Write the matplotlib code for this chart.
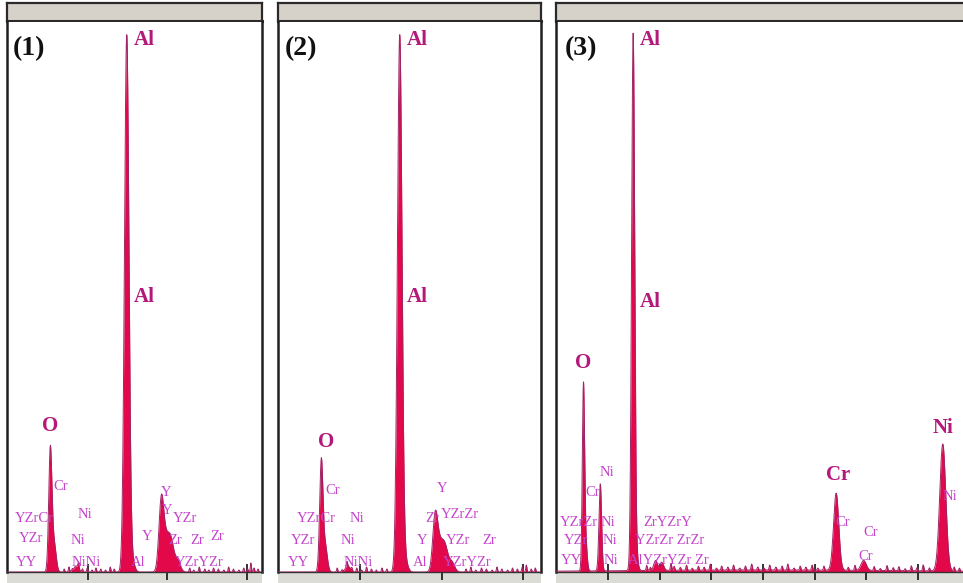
import numpy as np
import matplotlib
matplotlib.use("Agg")
import matplotlib.pyplot as plt

# ---------------- spectrum lines (energy keV, counts, sigma keV) ----------------
p1_energy = [0.525, 0.573, 0.851, 1.487, 1.557, 1.922, 1.980, 2.042, 2.124]
p1_counts = [122, 28, 6, 537, 10, 70, 28, 30, 12]
p1_sigma = [0.020, 0.025, 0.030, 0.028, 0.030, 0.030, 0.035, 0.035, 0.035]

p2_energy = [0.525, 0.573, 0.851, 1.487, 1.557, 1.922, 1.980, 2.042, 2.124]
p2_counts = [110, 26, 6, 537, 10, 55, 24, 24, 10]
p2_sigma = [0.020, 0.025, 0.030, 0.028, 0.030, 0.030, 0.035, 0.035, 0.035]

p3_energy = [0.525, 0.573, 0.851, 1.487, 1.557, 1.922, 2.042, 5.415, 5.947, 7.478, 4.0]
p3_counts = [185, 25, 87, 537, 10, 10, 8, 77, 10, 127, 2]
p3_sigma = [0.022, 0.025, 0.025, 0.030, 0.030, 0.035, 0.035, 0.050, 0.050, 0.058, 3.0]

# ---------------- baseline noise spikes (energy keV, counts) ----------------
p1_noise_e = [0.70, 0.76, 0.80, 0.88, 0.93, 0.99, 1.05, 1.10, 1.16, 1.22, 1.28, 1.33,
              2.28, 2.33, 2.40, 2.47, 2.52, 2.58, 2.64, 2.71, 2.77, 2.83, 2.90,
              2.96, 3.01, 3.05, 3.09, 3.14]
p1_noise_c = [3, 5, 2, 6, 3, 4, 2, 4, 3, 2, 5, 3,
              4, 2, 5, 3, 2, 4, 3, 2, 5, 3, 2, 4, 3, 9, 4, 3]
p2_noise_e = [0.72, 0.78, 0.84, 0.90, 0.96, 1.02, 1.08, 1.14, 1.20, 1.27, 1.33,
              2.30, 2.36, 2.42, 2.49, 2.55, 2.62, 2.68, 2.74, 2.81, 2.87, 2.93,
              2.99, 3.04, 3.10, 3.15]
p2_noise_c = [4, 2, 5, 3, 4, 2, 5, 3, 2, 4, 3,
              3, 5, 2, 4, 3, 2, 5, 3, 2, 4, 3, 5, 7, 3, 4]
p3_noise_e = [1.75, 1.82, 2.22, 2.28, 2.40, 2.52, 2.63, 2.75, 2.86, 2.98, 3.10, 3.20,
              3.32, 3.43, 3.55, 3.66, 3.78, 3.90, 4.02, 4.13, 4.25, 4.37, 4.48, 4.60,
              4.72, 4.83, 4.95, 5.06, 5.18, 5.65, 5.78, 6.15, 6.27, 6.40, 6.52, 6.63,
              6.75, 6.87, 6.98, 7.10, 7.22, 7.70, 7.80]
p3_noise_c = [5, 3, 7, 4, 3, 5, 2, 4, 3, 6, 2, 4,
              3, 5, 2, 4, 6, 3, 2, 5, 3, 4, 6, 2,
              4, 3, 5, 2, 4, 3, 5, 4, 2, 5, 3, 4,
              2, 5, 3, 6, 3, 4, 3]

# ---------------- labels: main lines and element markers ----------------
p1_main = [("Al", 1.58, 532, "left"), ("Al", 1.58, 275, "left"), ("O", 0.52, 146, "center")]
p1_small = [("Cr", 0.65, 85), ("YZrCr", 0.33, 54), ("Ni", 0.96, 57), ("YZr", 0.28, 34),
            ("Ni", 0.87, 32), ("YY", 0.22, 10), ("NiNi", 0.98, 10), ("Y", 1.98, 80),
            ("Y", 1.99, 62), ("YZr", 2.22, 54), ("Y", 1.74, 35), ("Zr", 2.10, 32),
            ("Zr", 2.38, 32), ("Zr", 2.62, 35), ("Al", 1.63, 10), ("YZrYZr", 2.40, 10)]
p2_main = [("Al", 1.57, 532, "left"), ("Al", 1.57, 275, "left"), ("O", 0.58, 130, "center")]
p2_small = [("Cr", 0.67, 82), ("YZrCr", 0.46, 54), ("Ni", 0.96, 54), ("YZr", 0.30, 32),
            ("Ni", 0.85, 32), ("YY", 0.24, 10), ("NiNi", 0.98, 10), ("Y", 2.01, 84),
            ("Zr", 1.88, 54), ("YZrZr", 2.23, 57), ("Y", 1.76, 31), ("YZr", 2.20, 31),
            ("Zr", 2.59, 31), ("Al", 1.74, 10), ("YZrYZr", 2.31, 10)]
p3_main = [("Al", 1.62, 532, "left"), ("Al", 1.62, 270, "left"), ("O", 0.51, 209, "center"),
           ("Cr", 5.45, 97, "center"), ("Ni", 7.48, 144, "center")]
p3_small = [("Ni", 0.98, 99), ("Cr", 0.70, 79), ("YZrZr", 0.43, 50), ("Ni", 0.99, 50),
            ("YZr", 0.38, 32), ("Ni", 1.04, 32), ("YY", 0.30, 12), ("Ni", 1.06, 12),
            ("ZrYZrY", 2.16, 50), ("YZrZr ZrZr", 2.20, 32), ("AlYZrYZr Zr", 2.16, 12),
            ("Cr", 5.55, 49), ("Cr", 6.08, 40), ("Cr", 5.99, 15), ("Ni", 7.62, 75)]

panel_tags = ["(1)", "(2)", "(3)"]
panel_ticks = [[1, 2, 3], [1, 2, 3], [1, 2, 3, 4, 5, 6, 7]]

# ---------------- styling ----------------
FILL = "#E2084A"
EDGE = "#A02466"
MAIN_TXT = "#B3187A"
SMALL_TXT = "#C444CC"
HEADER = "#D6D2CA"
STRIP = "#DCDCD6"
SERIF = ["Liberation Serif", "DejaVu Serif"]

W, H = 963, 583
fig = plt.figure(figsize=(W / 100, H / 100), dpi=100)


def px_axes(left, top, right, bottom, z=1):
    return fig.add_axes([left / W, 1 - bottom / H, (right - left) / W, (bottom - top) / H], zorder=z)


panels = [
    dict(l=7, r=262, xlim=(-0.02, 3.19), E=p1_energy, C=p1_counts, S=p1_sigma,
         NE=p1_noise_e, NC=p1_noise_c, nw=0.007, main=p1_main, small=p1_small, right=True),
    dict(l=278, r=541, xlim=(-0.006, 3.22), E=p2_energy, C=p2_counts, S=p2_sigma,
         NE=p2_noise_e, NC=p2_noise_c, nw=0.007, main=p2_main, small=p2_small, right=True),
    dict(l=556, r=963, xlim=(-0.006, 7.87), E=p3_energy, C=p3_counts, S=p3_sigma,
         NE=p3_noise_e, NC=p3_noise_c, nw=0.012, main=p3_main, small=p3_small, right=False),
]

for i, p in enumerate(panels):
    # title bar
    hd = px_axes(p["l"], 3, p["r"], 21, z=2)
    hd.set_facecolor(HEADER)
    hd.set_xticks([]); hd.set_yticks([])
    for s in hd.spines.values():
        s.set_linewidth(1.6); s.set_color("#2a2a2a")
    hd.spines["bottom"].set_linewidth(2.2)
    if not p["right"]:
        hd.spines["right"].set_visible(False)

    # grey strip under the baseline
    st = px_axes(p["l"], 572, p["r"], 583, z=1)
    st.set_facecolor(STRIP)
    st.set_xticks([]); st.set_yticks([])
    for s in st.spines.values():
        s.set_visible(False)

    # spectrum: characteristic lines plus baseline noise spikes
    ax = px_axes(p["l"], 22, p["r"], 572, z=3)
    e = np.arange(p["xlim"][0], p["xlim"][1], 0.002)
    y = np.zeros_like(e)
    for E0, c0, s0 in zip(p["E"], p["C"], p["S"]):
        y += c0 * np.exp(-0.5 * ((e - E0) / s0) ** 2)
    for E0, c0 in zip(p["NE"], p["NC"]):
        y += c0 * np.exp(-0.5 * ((e - E0) / p["nw"]) ** 2)
    ax.fill_between(e, 0, y, color=FILL, lw=0, zorder=2)
    ax.plot(e, y, color=EDGE, lw=0.7, zorder=3)
    ax.set_xlim(*p["xlim"])
    ax.set_ylim(0, 550)
    ax.set_yticks([])
    ax.set_xticks(panel_ticks[i])
    ax.set_xticklabels([])
    ax.tick_params(axis="x", direction="inout", length=11, width=1.3, color="#222222")
    ax.spines["top"].set_visible(False)
    for side in ("left", "right"):
        ax.spines[side].set_linewidth(1.8)
        ax.spines[side].set_color("#1e1e1e")
    ax.spines["bottom"].set_linewidth(1.0)
    ax.spines["bottom"].set_color("#333333")
    if not p["right"]:
        ax.spines["right"].set_visible(False)

    ax.text(0.024 if i < 2 else 0.022, 0.952, panel_tags[i], transform=ax.transAxes,
            ha="left", va="center", fontsize=20, fontweight="bold", family=SERIF,
            color="#111111")
    for txt, xx, yy, ha in p["main"]:
        ax.text(xx, yy, txt, ha=ha, va="center", fontsize=15, fontweight="bold",
                family=SERIF, color=MAIN_TXT, zorder=4)
    for txt, xx, yy in p["small"]:
        ax.text(xx, yy, txt, ha="center", va="center", fontsize=10.5, family=SERIF,
                color=SMALL_TXT, zorder=4)

fig.savefig("out.png", dpi=100, facecolor="white")
